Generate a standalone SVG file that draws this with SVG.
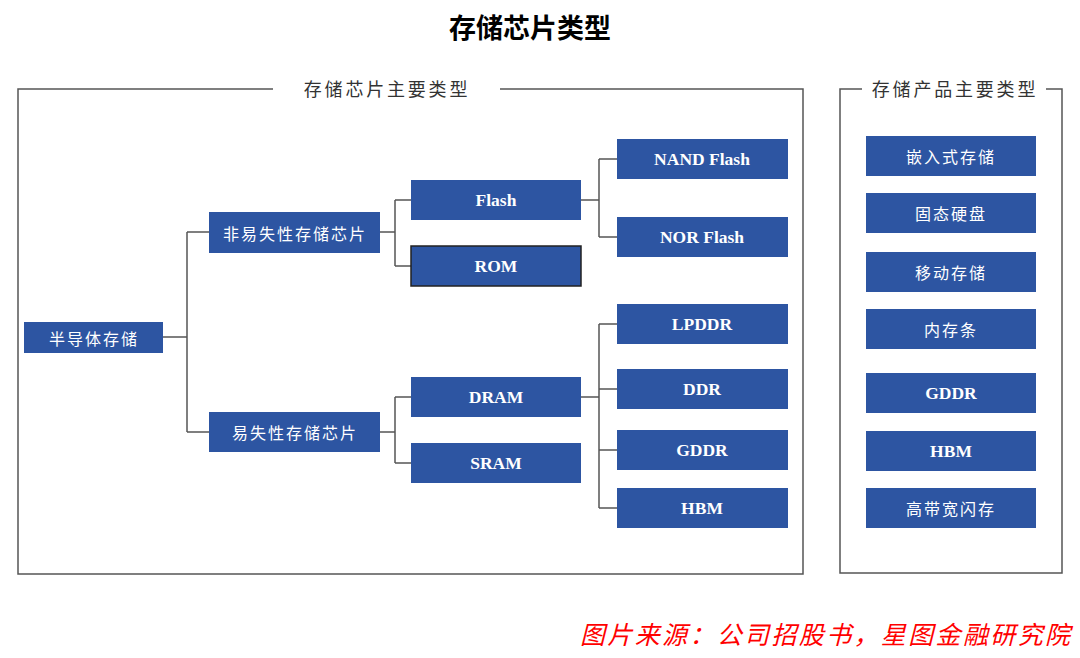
<svg xmlns="http://www.w3.org/2000/svg" width="1080" height="658" viewBox="0 0 1080 658">
<style>
.node rect{fill:#2D55A2;}
.rom rect{stroke:#222;stroke-width:1.5;}
.zh{font-family:"Noto Sans CJK SC","Noto Sans",sans-serif;font-size:16px;fill:#fff;letter-spacing:2px;text-anchor:middle;dominant-baseline:central;}
.en{font-family:"Liberation Serif","Times New Roman",serif;font-weight:bold;font-size:17.5px;fill:#fff;text-anchor:middle;dominant-baseline:central;}
.frame{fill:none;stroke:#555;stroke-width:1.5;}
.flabel{font-family:"Noto Sans CJK SC",sans-serif;font-size:18px;fill:#333;letter-spacing:2.8px;text-anchor:middle;}
#connectors path{fill:none;stroke:#555;stroke-width:1.5;}
</style>
<rect width="1080" height="658" fill="#fff"/>
<text x="530" y="38" font-family="Noto Sans CJK SC, sans-serif" font-size="27" font-weight="bold" fill="#000" text-anchor="middle">存储芯片类型</text>

<g id="frame-left">
<path class="frame" d="M273,89 H18 V574 H803 V89 H500"/>
<text class="flabel" x="387" y="96">存储芯片主要类型</text>
</g>
<g id="frame-right">
<path class="frame" d="M862,89 H840 V573 H1062 V89 H1046"/>
<text class="flabel" x="955" y="96">存储产品主要类型</text>
</g>

<g id="connectors">
<path d="M163,337 H187 M187,232 V432 M187,232 H209 M187,432 H209"/>
<path d="M380,232 H395 M395,200 V266 M395,200 H411 M395,266 H411"/>
<path d="M581,200 H599 M599,159 V237 M599,159 H617 M599,237 H617"/>
<path d="M380,432 H395 M395,397 V463 M395,397 H411 M395,463 H411"/>
<path d="M581,397 H599 M599,324 V508 M599,324 H617 M599,389 H617 M599,450 H617 M599,508 H617"/>
</g>

<g id="n-semi" class="node"><rect x="24" y="322" width="139" height="31"/><text class="zh" x="94" y="337.5">半导体存储</text></g>
<g id="n-nonvolatile" class="node"><rect x="209" y="212" width="171" height="41"/><text class="zh" x="295" y="232.5">非易失性存储芯片</text></g>
<g id="n-volatile" class="node"><rect x="209" y="412" width="171" height="40"/><text class="zh" x="295" y="432">易失性存储芯片</text></g>
<g id="n-flash" class="node"><rect x="411" y="180" width="170" height="40"/><text class="en" x="496" y="200">Flash</text></g>
<g id="n-rom" class="node rom"><rect x="411" y="246" width="170" height="40"/><text class="en" x="496" y="266">ROM</text></g>
<g id="n-dram" class="node"><rect x="411" y="377" width="170" height="40"/><text class="en" x="496" y="397">DRAM</text></g>
<g id="n-sram" class="node"><rect x="411" y="443" width="170" height="40"/><text class="en" x="496" y="463">SRAM</text></g>
<g id="n-nand" class="node"><rect x="617" y="139" width="171" height="40"/><text class="en" x="702" y="159">NAND Flash</text></g>
<g id="n-nor" class="node"><rect x="617" y="217" width="171" height="40"/><text class="en" x="702" y="237">NOR Flash</text></g>
<g id="n-lpddr" class="node"><rect x="617" y="304" width="171" height="40"/><text class="en" x="702" y="324">LPDDR</text></g>
<g id="n-ddr" class="node"><rect x="617" y="369" width="171" height="40"/><text class="en" x="702" y="389">DDR</text></g>
<g id="n-gddr" class="node"><rect x="617" y="430" width="171" height="40"/><text class="en" x="702" y="450">GDDR</text></g>
<g id="n-hbm" class="node"><rect x="617" y="488" width="171" height="40"/><text class="en" x="702" y="508">HBM</text></g>

<g id="p-embedded" class="node"><rect x="866" y="136" width="170" height="40"/><text class="zh" x="951" y="156">嵌入式存储</text></g>
<g id="p-ssd" class="node"><rect x="866" y="193" width="170" height="40"/><text class="zh" x="951" y="213">固态硬盘</text></g>
<g id="p-mobile" class="node"><rect x="866" y="252" width="170" height="40"/><text class="zh" x="951" y="272">移动存储</text></g>
<g id="p-dimm" class="node"><rect x="866" y="309" width="170" height="40"/><text class="zh" x="951" y="329">内存条</text></g>
<g id="p-gddr" class="node"><rect x="866" y="373" width="170" height="40"/><text class="en" x="951" y="393">GDDR</text></g>
<g id="p-hbm" class="node"><rect x="866" y="431" width="170" height="40"/><text class="en" x="951" y="451">HBM</text></g>
<g id="p-hbf" class="node"><rect x="866" y="488" width="170" height="40"/><text class="zh" x="951" y="508">高带宽闪存</text></g>

<text x="580" y="644" font-family="Noto Sans CJK SC, sans-serif" font-size="25" font-style="italic" fill="#FF0000" textLength="490" lengthAdjust="spacing">图片来源：公司招股书，星图金融研究院</text>
</svg>
